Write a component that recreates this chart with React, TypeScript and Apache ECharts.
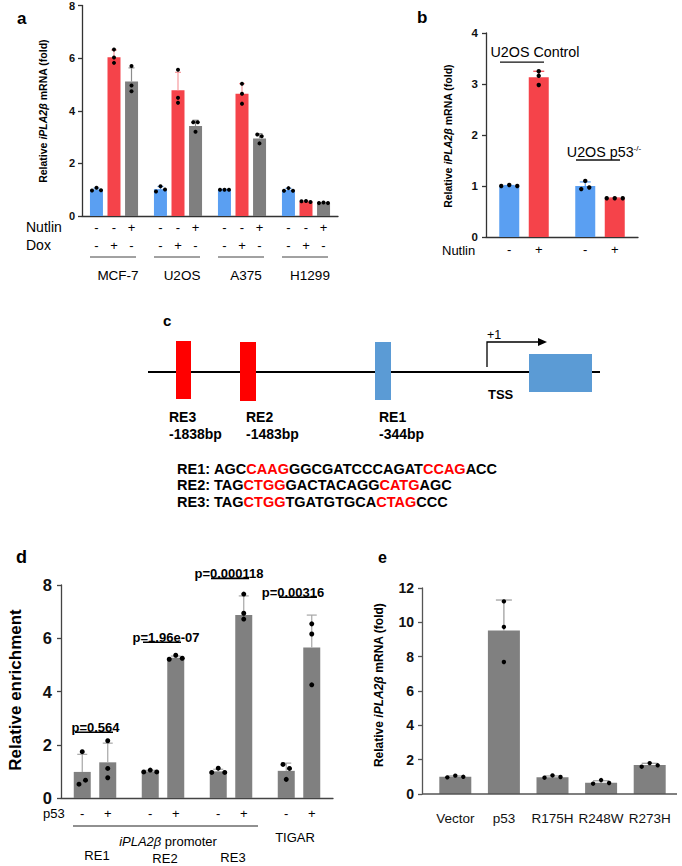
import React, { useEffect, useRef } from 'react';
import * as echarts from 'echarts';

const FONT = '"Liberation Sans", Arial, Helvetica, sans-serif';
const BLUE = '#5a9ff2';
const RED = '#f5434a';
const GRAY = '#808080';

// ---------- Panel a ----------
const aCategories = ['MCF-7', 'U2OS', 'A375', 'H1299'];
const aNutlinSigns = ['-', '-', '+'];
const aDoxSigns = ['-', '+', '-'];
const aControlMean = [1.01, 1.02, 1.0, 0.99];
const aControlSD = [0.05, 0.1, 0.01, 0.06];
const aControlPts = [[0.97, 1.07, 0.98], [0.93, 1.13, 1.01], [1.0, 1.0, 1.0], [0.96, 1.06, 0.96]];
const aDoxMean = [6.03, 4.78, 4.65, 0.55];
const aDoxSD = [0.28, 0.68, 0.38, 0.02];
const aDoxPts = [[6.33, 6.02, 5.82], [5.56, 4.49, 4.3], [5.03, 4.65, 4.27], [0.56, 0.57, 0.53]];
const aNutlinMean = [5.11, 3.42, 2.95, 0.5];
const aNutlinSD = [0.52, 0.22, 0.18, 0.01];
const aNutlinPts = [[5.7, 4.96, 4.74], [3.56, 3.56, 3.2], [3.1, 3.03, 2.76], [0.49, 0.51, 0.49]];

// ---------- Panel b ----------
const bCategories = ['U2OS Control', 'U2OS p53-/-'];
const bNutlinSigns = ['-', '+'];
const bControlMean = [1.0, 1.0];
const bControlSD = [0.01, 0.08];
const bControlPts = [[1.0, 1.02, 1.0], [0.94, 1.1, 0.97]];
const bNutlinMean = [3.13, 0.76];
const bNutlinSD = [0.12, 0.005];
const bNutlinPts = [[3.25, 3.16, 2.98], [0.76, 0.76, 0.76]];
const bGroupLabelLevel = [3.63, 1.67];
const bGroupLineLevel = [3.43, 1.51];

// ---------- Panel c ----------
const cElements = [
  { name: 'RE3', pos: '-1838bp' },
  { name: 'RE2', pos: '-1483bp' },
  { name: 'RE1', pos: '-344bp' },
];
const seqRE1: [string, boolean][] = [['AGC', false], ['CAAG', true], ['GGCGATCCCAGAT', false], ['CCAG', true], ['ACC', false]];
const seqRE2: [string, boolean][] = [['TAG', false], ['CTGG', true], ['GACTACAGG', false], ['CATG', true], ['AGC', false]];
const seqRE3: [string, boolean][] = [['TAG', false], ['CTGG', true], ['TGATGTGCA', false], ['CTAG', true], ['CCC', false]];

// ---------- Panel d ----------
const dCategories = ['RE1', 'RE2', 'RE3', 'TIGAR'];
const dP53Signs = ['-', '+'];
const dMinusMean = [0.98, 1.0, 1.0, 1.02];
const dMinusSD = [0.66, 0.04, 0.08, 0.29];
const dMinusPts = [[0.52, 1.74, 0.67], [0.98, 1.05, 0.98], [0.96, 1.12, 0.96], [1.26, 1.11, 0.7]];
const dPlusMean = [1.34, 5.27, 6.87, 5.65];
const dPlusSD = [0.72, 0.06, 0.72, 1.22];
const dPlusPts = [[2.15, 1.11, 0.76], [5.21, 5.36, 5.25], [7.66, 6.94, 6.72], [6.54, 6.16, 4.25]];
const dPValues = ['p=0.564', 'p=1.96e-07', 'p=0.000118', 'p=0.00316'];
const dPLineLevel = [2.47, 5.85, 8.25, 7.54];
const dPTextShift = [0.5, 3, -2, -6];

// ---------- Panel e ----------
const eCategories = ['Vector', 'p53', 'R175H', 'R248W', 'R273H'];
const eMean = [1.0, 9.53, 0.98, 0.66, 1.69];
const eSD = [0.05, 1.77, 0.07, 0.11, 0.1];
const ePts = [[0.97, 1.07, 1.0], [11.22, 9.73, 7.69], [0.95, 1.08, 0.99], [0.6, 0.81, 0.64], [1.59, 1.8, 1.67]];

// ---------- helpers ----------
function jitter(ys: number[], thr: number, sp: number): number[] {
  const idx = ys.map((_, i) => i).sort((a, b) => ys[a] - ys[b]);
  const offs = ys.map(() => 0);
  let cluster: number[] = [idx[0]];
  const flush = () => {
    if (cluster.length > 1) {
      const ord = cluster.slice().sort((a, b) => a - b);
      ord.forEach((ii, k) => {
        offs[ii] = (k - (ord.length - 1) / 2) * sp;
      });
    }
  };
  for (let k = 1; k < idx.length; k++) {
    if (Math.abs(ys[idx[k]] - ys[idx[k - 1]]) < thr) cluster.push(idx[k]);
    else {
      flush();
      cluster = [idx[k]];
    }
  }
  flush();
  return offs;
}

type Group = { mean: number[]; sd: number[]; pts: number[][]; err: string };

function dotsSeries(axis: number, cats: string[], groups: Group[], pitch: number, r: number, sp: number, capW: number) {
  const data: number[][] = [];
  cats.forEach((_, c) => groups.forEach((__, s) => data.push([c, s])));
  return {
    type: 'custom',
    xAxisIndex: axis,
    yAxisIndex: axis,
    silent: true,
    z: 5,
    encode: { x: 0, y: 1 },
    data,
    renderItem: (params: any, api: any) => {
      const c = api.value(0);
      const s = api.value(1);
      const g = groups[s];
      const n = groups.length;
      const base = api.coord([c, 0]);
      const x = base[0] + (s - (n - 1) / 2) * pitch;
      const ym = api.coord([c, g.mean[c]])[1];
      const yt = api.coord([c, g.mean[c] + g.sd[c]])[1];
      const kids: any[] = [
        { type: 'line', shape: { x1: x, y1: ym, x2: x, y2: yt }, style: { stroke: g.err, lineWidth: 1.2 } },
        { type: 'line', shape: { x1: x - capW / 2, y1: yt, x2: x + capW / 2, y2: yt }, style: { stroke: g.err, lineWidth: 1.2 } },
      ];
      const ys = g.pts[c].map((v) => api.coord([c, v])[1]);
      const offs = jitter(ys, 2 * r, sp);
      ys.forEach((y, i) => kids.push({ type: 'circle', shape: { cx: x + offs[i], cy: y, r }, style: { fill: '#000' } }));
      return { type: 'group', children: kids };
    },
  };
}

function txt(text: string, x: number, y: number, size: number, opts: any = {}) {
  return {
    type: 'text',
    x,
    y,
    style: {
      text,
      fontFamily: FONT,
      fontSize: size,
      fontWeight: opts.weight || 'normal',
      fontStyle: opts.style || 'normal',
      fill: opts.color || '#000',
      align: opts.align || 'center',
      textAlign: opts.align || 'center',
      verticalAlign: 'middle',
      textVerticalAlign: 'middle',
      rich: opts.rich,
    },
    rotation: opts.rotation || 0,
  };
}

function ln(x1: number, y1: number, x2: number, y2: number, color = '#333', w = 1) {
  return { type: 'line', shape: { x1, y1, x2, y2 }, style: { stroke: color, lineWidth: w } };
}

function annot(axis: number, cats: string[], render: (c: number, api: any) => any[]) {
  return {
    type: 'custom',
    xAxisIndex: axis,
    yAxisIndex: axis,
    silent: true,
    z: 6,
    encode: { x: 0, y: 1 },
    data: cats.map((_, i) => [i, 0]),
    renderItem: (params: any, api: any) => ({ type: 'group', children: render(api.value(0), api) }),
  };
}

function yAx(grid: number, max: number, interval: number, size: number, margin: number, color: string, extra: any = {}) {
  return {
    type: 'value',
    gridIndex: grid,
    min: 0,
    max,
    interval,
    axisLine: { show: true, lineStyle: { color, width: 1.3 } },
    axisTick: { show: true, length: 4, lineStyle: { color, width: 1.3 } },
    splitLine: { show: false },
    axisLabel: { fontFamily: FONT, fontWeight: 'bold', fontSize: size, color: '#111', margin },
    ...extra,
  };
}

function xAx(grid: number, cats: string[], color: string, extra: any = {}) {
  return {
    type: 'category',
    gridIndex: grid,
    data: cats,
    axisLine: { show: true, lineStyle: { color, width: 1.3 } },
    axisTick: { show: false },
    axisLabel: { show: false },
    splitLine: { show: false },
    ...extra,
  };
}

function bar(axis: number, data: number[], color: string, bw: number, gap: string) {
  return {
    type: 'bar',
    xAxisIndex: axis,
    yAxisIndex: axis,
    data,
    barWidth: bw,
    barGap: gap,
    silent: true,
    itemStyle: { color },
  };
}

function seqRich(label: string, segs: [string, boolean][]) {
  return `{k|${label} }` + segs.map(([t, red]) => `{${red ? 'r' : 'k'}|${t}}`).join('');
}

const yLabelRich = (size: number) => ({
  n: { fontFamily: FONT, fontSize: size, fontWeight: 'bold', fill: '#000' },
  i: { fontFamily: FONT, fontSize: size, fontWeight: 'bold', fontStyle: 'italic', fill: '#000' },
});

export default function App() {
  const ref = useRef<HTMLDivElement>(null);
  useEffect(() => {
    if (!ref.current) return;
    const chart = echarts.init(ref.current, undefined, { renderer: 'svg' });

    const seqStyleRich = {
      k: { fontFamily: FONT, fontSize: 14.5, fontWeight: 'bold', fill: '#000' },
      r: { fontFamily: FONT, fontSize: 14.5, fontWeight: 'bold', fill: '#ff0000' },
    };

    const graphic: any[] = [
      // panel letters
      txt('a', 17, 18, 17, { weight: 'bold', align: 'left' }),
      txt('b', 417, 17, 17, { weight: 'bold', align: 'left' }),
      txt('c', 163, 320, 15, { weight: 'bold', align: 'left' }),
      txt('d', 16, 557, 18, { weight: 'bold', align: 'left' }),
      txt('e', 378, 557, 16, { weight: 'bold', align: 'left' }),
      // y-axis names
      txt('{n|Relative }{i|iPLA2β}{n| mRNA (fold)}', 43, 111, 10.5, { weight: 'bold', rotation: Math.PI / 2, rich: yLabelRich(10.5) }),
      txt('{n|Relative }{i|iPLA2β}{n| mRNA (fold)}', 448, 136, 10.5, { weight: 'bold', rotation: Math.PI / 2, rich: yLabelRich(10.5) }),
      txt('Relative enrichment', 15, 690, 17, { weight: 'bold', rotation: Math.PI / 2 }),
      txt('{n|Relative }{i|iPLA2β}{n| mRNA (fold)}', 379, 685, 12, { weight: 'bold', rotation: Math.PI / 2, rich: yLabelRich(12) }),
      // row titles
      txt('Nutlin', 26, 227, 14, { align: 'left' }),
      txt('Dox', 26, 245, 14, { align: 'left' }),
      txt('Nutlin', 442, 250, 13, { align: 'left' }),
      txt('p53', 43, 813, 13, { align: 'left' }),
      // panel e x-axis line
      { type: 'line', shape: { x1: 422, y1: 794, x2: 677, y2: 794 }, style: { stroke: '#555', lineWidth: 1.3 }, z: 10 },
      // panel c diagram
      { type: 'line', shape: { x1: 148, y1: 372, x2: 600, y2: 372 }, style: { stroke: '#000', lineWidth: 2 }, z: 1 },
      { type: 'rect', shape: { x: 176, y: 341, width: 15, height: 58 }, style: { fill: '#ff0000' }, z: 2 },
      { type: 'rect', shape: { x: 240, y: 342, width: 16, height: 59 }, style: { fill: '#ff0000' }, z: 2 },
      { type: 'rect', shape: { x: 375, y: 342, width: 16, height: 58 }, style: { fill: '#5b9bd5' }, z: 2 },
      { type: 'rect', shape: { x: 529, y: 354, width: 63, height: 38 }, style: { fill: '#5b9bd5' }, z: 2 },
      { type: 'polyline', shape: { points: [[487, 367], [487, 342], [540, 342]] }, style: { stroke: '#000', lineWidth: 1.3, fill: null }, z: 2 },
      { type: 'polygon', shape: { points: [[538, 338], [547, 342], [538, 346]] }, style: { fill: '#000' }, z: 2 },
      txt('+1', 487, 335, 12.5, { align: 'left' }),
      txt('TSS', 488, 394, 13, { weight: 'bold', align: 'left' }),
      txt(cElements[0].name, 169, 417, 14, { weight: 'bold', align: 'left' }),
      txt(cElements[0].pos, 169, 434, 14, { weight: 'bold', align: 'left' }),
      txt(cElements[1].name, 246, 417, 14, { weight: 'bold', align: 'left' }),
      txt(cElements[1].pos, 246, 434, 14, { weight: 'bold', align: 'left' }),
      txt(cElements[2].name, 379, 417, 14, { weight: 'bold', align: 'left' }),
      txt(cElements[2].pos, 379, 434, 14, { weight: 'bold', align: 'left' }),
      txt(seqRich('RE1:', seqRE1), 177, 469, 14.5, { weight: 'bold', align: 'left', rich: seqStyleRich }),
      txt(seqRich('RE2:', seqRE2), 177, 485, 14.5, { weight: 'bold', align: 'left', rich: seqStyleRich }),
      txt(seqRich('RE3:', seqRE3), 177, 502, 14.5, { weight: 'bold', align: 'left', rich: seqStyleRich }),
    ];

    const option: any = {
      animation: false,
      backgroundColor: '#fff',
      grid: [
        { left: 82, top: 5, width: 256, height: 211 },
        { left: 486, top: 33, width: 152, height: 204 },
        { left: 61, top: 585, width: 272, height: 213 },
        { left: 431, top: 588, width: 243, height: 206 },
      ],
      xAxis: [
        xAx(0, aCategories, '#333'),
        xAx(1, bCategories, '#333'),
        xAx(2, dCategories, '#444'),
        xAx(3, eCategories, '#555', {
          axisLine: { show: false },
          axisLabel: { show: true, interval: 0, fontFamily: FONT, fontSize: 13.5, color: '#111', margin: 17 },
        }),
      ],
      yAxis: [
        yAx(0, 8, 2, 11, 7, '#333'),
        yAx(1, 4, 1, 11.5, 8, '#333'),
        yAx(2, 8, 2, 16.5, 9, '#444'),
        yAx(3, 12, 2, 14, 8, '#555', { offset: 9 }),
      ],
      graphic,
      series: [
        // panel a
        bar(0, aControlMean, BLUE, 13, '35%'),
        bar(0, aDoxMean, RED, 13, '35%'),
        bar(0, aNutlinMean, '#7f7f7f', 13, '35%'),
        dotsSeries(0, aCategories, [
          { mean: aControlMean, sd: aControlSD, pts: aControlPts, err: BLUE },
          { mean: aDoxMean, sd: aDoxSD, pts: aDoxPts, err: '#f79a9e' },
          { mean: aNutlinMean, sd: aNutlinSD, pts: aNutlinPts, err: '#8c8c8c' },
        ], 17.5, 2, 4.5, 6),
        annot(0, aCategories, (c, api) => {
          const [xc, y0] = api.coord([c, 0]);
          const kids: any[] = [];
          for (let s = 0; s < 3; s++) {
            const x = xc + (s - 1) * 17.5;
            kids.push(txt(aNutlinSigns[s], x, y0 + 11, 13));
            kids.push(txt(aDoxSigns[s], x, y0 + 29, 13));
          }
          kids.push(ln(xc - 24, y0 + 41, xc + 22, y0 + 41, '#444', 1));
          kids.push(txt(aCategories[c], xc + 4, y0 + 59, 13.5));
          return kids;
        }),
        // panel b
        bar(1, bControlMean, BLUE, 20, '47.5%'),
        bar(1, bNutlinMean, RED, 20, '47.5%'),
        dotsSeries(1, bCategories, [
          { mean: bControlMean, sd: bControlSD, pts: bControlPts, err: BLUE },
          { mean: bNutlinMean, sd: bNutlinSD, pts: bNutlinPts, err: RED },
        ], 29.5, 2.2, 8, 11),
        annot(1, bCategories, (c, api) => {
          const [xc, y0] = api.coord([c, 0]);
          const kids: any[] = [];
          for (let s = 0; s < 2; s++) kids.push(txt(bNutlinSigns[s], xc + (s - 0.5) * 29.5, y0 + 12, 13));
          const yl = api.coord([c, bGroupLabelLevel[c]])[1];
          const yline = api.coord([c, bGroupLineLevel[c]])[1];
          if (c === 0) {
            kids.push(txt('U2OS Control', xc + 11, yl, 14.3));
          } else {
            kids.push(
              txt('{n|U2OS p53}{s|-/-}', xc + 4, yl, 14.3, {
                rich: {
                  n: { fontFamily: FONT, fontSize: 14.3, fill: '#000' },
                  s: { fontFamily: FONT, fontSize: 8, fill: '#000', verticalAlign: 'top', padding: [0, 0, 6, 0] },
                },
              })
            );
          }
          kids.push(ln(xc - 24, yline, xc + 20, yline, '#111', 1.3));
          return kids;
        }),
        // panel d
        bar(2, dMinusMean, GRAY, 17, '50%'),
        bar(2, dPlusMean, GRAY, 17, '50%'),
        dotsSeries(2, dCategories, [
          { mean: dMinusMean, sd: dMinusSD, pts: dMinusPts, err: '#a6a6a6' },
          { mean: dPlusMean, sd: dPlusSD, pts: dPlusPts, err: '#a6a6a6' },
        ], 25.5, 2.5, 6.5, 10),
        annot(2, dCategories, (c, api) => {
          const [xc, y0] = api.coord([c, 0]);
          const kids: any[] = [];
          for (let s = 0; s < 2; s++) kids.push(txt(dP53Signs[s], xc + (s - 0.5) * 25.5, y0 + 15, 13));
          const yl = api.coord([c, dPLineLevel[c]])[1];
          kids.push(ln(xc - 20, yl, xc + 18, yl, '#000', 1.6));
          kids.push(txt(dPValues[c], xc + dPTextShift[c], yl - 5, 13, { weight: 'bold' }));
          if (c < 3) {
            kids.push(txt(dCategories[c], xc + 2, y0 + [57, 60, 59][c], 13));
          } else {
            kids.push(txt(dCategories[c], xc - 4, y0 + 39, 13));
          }
          if (c === 0) {
            const x2 = api.coord([2, 0])[0];
            const x1 = api.coord([1, 0])[0];
            kids.push(ln(xc - 22, y0 + 28, x2 + 27, y0 + 28, '#222', 1.2));
            kids.push(
              txt('{i|iPLA2β}{n| promoter}', x1 + 5, y0 + 43, 13, {
                rich: {
                  n: { fontFamily: FONT, fontSize: 13, fill: '#000' },
                  i: { fontFamily: FONT, fontSize: 13, fontStyle: 'italic', fill: '#000' },
                },
              })
            );
          }
          return kids;
        }),
        // panel e
        bar(3, eMean, GRAY, 32, '30%'),
        dotsSeries(3, eCategories, [{ mean: eMean, sd: eSD, pts: ePts, err: '#999999' }], 0, 2.2, 8, 16),
      ],
    };
    chart.setOption(option);
    return () => chart.dispose();
  }, []);
  return <div ref={ref} style={{ position: 'absolute', left: 0, top: 0, width: 682, height: 866 }} />;
}
